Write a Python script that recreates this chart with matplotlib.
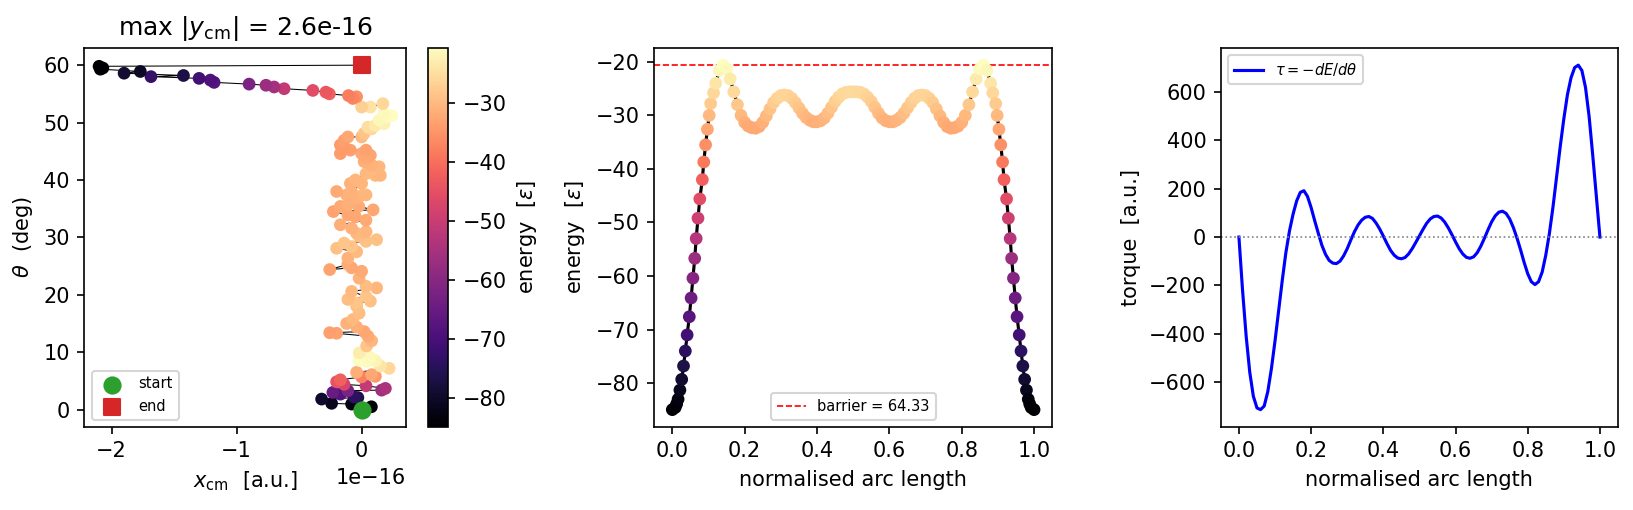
import numpy as np
import matplotlib
matplotlib.use("Agg")
import matplotlib.pyplot as plt

# ---------------- panel 1: path in (x_cm, theta), coloured by energy ----------------
# x_cm in units of 1e-16 a.u.
xcm_e16 = [0.00, 0.078, -0.08, -0.24, -0.32, -0.03, -0.06, -0.17, -0.23, -0.11,
           0.16, 0.19, 0.035, -0.14, -0.20, -0.17, 0.00, 0.11, 0.08, -0.04,
           0.22, 0.15, 0.11, 0.04, -0.02, 0.07, -0.02,
           0.04, 0.08, 0.05, -0.20, -0.255, 0.02, -0.04, -0.12, -0.07, -0.02, -0.04,
           -0.04, 0.07, -0.11, 0.035, -0.08, 0.12, 0.035, -0.02, 0.00, -0.08,
           -0.255, -0.11, -0.11, -0.04, -0.20, -0.08, -0.14, 0.035, 0.12, -0.02,
           -0.04, 0.035, -0.08, -0.17, 0.035, -0.05, -0.11, -0.226, 0.092, -0.023,
           -0.17, -0.11,
           -0.04, 0.01, 0.035, -0.12, -0.20, -0.08, 0.00, -0.09, -0.05, 0.035,
           0.11, 0.15, 0.07, 0.14, 0.08, 0.02, 0.05, 0.07, 0.00, 0.035,
           -0.09, -0.17, -0.14, -0.17, -0.14, -0.11, 0.00, 0.02, 0.08, 0.05,
           0.11, 0.18, 0.14, 0.21, 0.24, 0.18, 0.17, 0.07, 0.00,
           -0.04, -0.07, -0.105, -0.258, -0.286, -0.39, -0.62, -0.70, -0.765, -0.90,
           -1.18, -1.21, -1.30, -1.685, -1.425, -1.90, -1.77, -2.09, -2.07, -2.10,
           0.00]
theta_deg = [0.0, 0.5, 0.97, 1.1, 1.84, 2.1, 2.2, 2.7, 3.0, 3.3,
             3.4, 3.7, 4.15, 4.4, 4.85, 5.2, 5.7, 5.8, 6.1, 6.5,
             7.2, 7.6, 8.5, 8.4, 8.6, 9.1, 9.9,
             11.1, 12.0, 12.8, 13.3, 13.4, 13.6, 14.4, 15.0, 15.7, 16.8, 18.0,
             18.6, 18.9, 19.2, 19.7, 20.6, 21.2, 21.5, 22.9, 24.1, 24.7,
             24.4, 25.3, 26.4, 27.5, 28.1, 28.4, 29.0, 29.3, 29.6, 30.2,
             30.7, 31.0, 31.6, 32.2, 33.0, 33.6, 33.9, 34.5, 34.8, 35.4,
             35.4, 35.7,
             36.8, 37.4, 37.4, 37.4, 38.0, 38.0, 39.4, 39.4, 40.0, 41.1,
             40.8, 40.8, 41.7, 42.3, 42.6, 43.2, 43.8, 44.3, 44.6, 45.2,
             45.2, 44.6, 45.5, 46.1, 46.9, 47.5, 47.5, 48.1, 48.9, 49.2,
             49.5, 49.8, 50.4, 51.0, 51.2, 51.5, 53.3, 52.7, 52.7,
             54.5, 54.2, 54.7, 55.0, 55.3, 55.6, 55.9, 56.2, 56.5, 56.7,
             57.0, 57.4, 57.7, 58.0, 58.2, 58.6, 58.9, 59.3, 59.5, 59.8,
             60.0]
energy_path = [-84.9, -84.3, -83.2, -81.6, -79.5, -76.5, -74.0, -68.5, -65.0, -62.0,
               -56.5, -54.5, -51.0, -47.5, -44.5, -42.0, -37.5, -34.5, -32.5, -31.5,
               -26.0, -24.0, -22.0, -21.0, -20.7, -21.3, -23.0,
               -28.5, -30.5, -32.0, -33.0, -33.5, -32.5, -31.5, -31.0, -30.0, -29.5, -29.0,
               -28.5, -29.0, -29.5, -28.5, -30.0, -30.5, -29.5, -31.0, -32.0, -32.5,
               -33.0, -32.0, -31.0, -30.0, -29.0, -28.5, -28.5, -29.0, -29.0, -29.5,
               -30.0, -30.5, -31.0, -31.5, -32.0, -32.5, -32.5, -33.0, -32.5, -32.0,
               -32.0, -31.5,
               -31.0, -30.5, -30.5, -31.0, -32.0, -31.0, -30.5, -31.0, -30.5, -30.0,
               -30.0, -30.5, -30.0, -30.5, -31.0, -31.5, -32.0, -32.5, -32.5, -33.0,
               -33.5, -34.0, -34.0, -34.0, -33.5, -32.5, -30.0, -28.5, -26.0, -25.0,
               -23.5, -22.5, -21.5, -21.0, -20.7, -21.2, -26.0, -24.5, -27.0,
               -35.5, -37.0, -38.0, -42.0, -43.5, -46.0, -51.0, -55.5, -57.0, -62.0,
               -68.0, -69.0, -71.0, -73.0, -77.0, -79.0, -80.5, -84.0, -84.5, -84.9,
               -84.9]
y_cm_max = 2.6e-16

# ---------------- panel 2: energy along the path ----------------
s_nodes = [0.000, 0.008, 0.012, 0.016, 0.021, 0.026, 0.031, 0.036, 0.041, 0.047,
           0.052, 0.057, 0.062, 0.066, 0.071, 0.076, 0.083, 0.087, 0.092, 0.097,
           0.102, 0.106, 0.114,
           0.12, 0.13, 0.14, 0.15, 0.16, 0.17, 0.18, 0.19, 0.20, 0.21,
           0.22, 0.23, 0.24, 0.25, 0.26, 0.27, 0.28, 0.29, 0.30, 0.31,
           0.32, 0.33, 0.34, 0.35, 0.36, 0.37, 0.38, 0.39, 0.40, 0.41,
           0.42, 0.43, 0.44, 0.45, 0.46, 0.47, 0.48, 0.49, 0.50, 0.51,
           0.52, 0.53, 0.54, 0.55, 0.56, 0.57, 0.58, 0.59, 0.60, 0.61,
           0.62, 0.63, 0.64, 0.65, 0.66, 0.67, 0.68, 0.69, 0.70, 0.71,
           0.72, 0.73, 0.74, 0.75, 0.76, 0.77, 0.78, 0.79, 0.80, 0.81,
           0.82, 0.83, 0.84, 0.85, 0.86, 0.87, 0.88,
           0.886, 0.894, 0.898, 0.903, 0.908, 0.913, 0.917, 0.924, 0.929, 0.934,
           0.938, 0.943, 0.948, 0.953, 0.959, 0.964, 0.969, 0.974, 0.979, 0.984,
           0.988, 0.992, 1.000]
E_nodes = [-84.95, -84.55, -83.9, -83.0, -81.3, -79.3, -76.8, -74.0, -71.0, -67.6,
           -64.1, -60.4, -56.7, -53.0, -49.2, -45.6, -42.0, -38.7, -35.5, -32.6,
           -30.0, -27.8, -25.8,
           -24.0, -21.6, -20.62, -21.3, -23.2, -25.6, -28.0, -30.0, -31.3, -32.0,
           -32.3, -32.4, -32.1, -31.3, -30.1, -28.8, -27.6, -26.8, -26.3, -26.2,
           -26.3, -26.8, -27.6, -28.6, -29.6, -30.4, -30.9, -31.2, -31.2, -31.0,
           -30.5, -29.6, -28.5, -27.4, -26.6, -26.0, -25.7, -25.6, -25.6, -25.6,
           -25.7, -26.0, -26.6, -27.4, -28.5, -29.6, -30.5, -31.0, -31.2, -31.2,
           -30.9, -30.4, -29.6, -28.6, -27.6, -26.8, -26.3, -26.2, -26.3, -26.8,
           -27.6, -28.8, -30.1, -31.3, -32.1, -32.4, -32.3, -32.0, -31.3, -30.0,
           -28.0, -25.6, -23.2, -21.3, -20.62, -21.6, -24.0,
           -25.8, -27.8, -30.0, -32.6, -35.5, -38.7, -42.0, -45.6, -49.2, -53.0,
           -56.7, -60.4, -64.1, -67.6, -71.0, -74.0, -76.8, -79.3, -81.3, -83.0,
           -83.9, -84.55, -84.95]

# ---------------- panel 3: torque ----------------
s_tau = [0.00, 0.01, 0.02, 0.03, 0.04, 0.05, 0.06, 0.07, 0.08, 0.09,
         0.10, 0.11, 0.12, 0.13, 0.14, 0.15, 0.16, 0.17, 0.18, 0.19,
         0.20, 0.21, 0.22, 0.23, 0.24, 0.25, 0.26, 0.27, 0.28, 0.29,
         0.30, 0.31, 0.32, 0.33, 0.34, 0.35, 0.36, 0.37, 0.38, 0.39,
         0.40, 0.41, 0.42, 0.43, 0.44, 0.45, 0.46, 0.47, 0.48, 0.49,
         0.50, 0.51, 0.52, 0.53, 0.54, 0.55, 0.56, 0.57, 0.58, 0.59,
         0.60, 0.61, 0.62, 0.63, 0.64, 0.65, 0.66, 0.67, 0.68, 0.69,
         0.70, 0.71, 0.72, 0.73, 0.74, 0.75, 0.76, 0.77, 0.78, 0.79,
         0.80, 0.81, 0.82, 0.83, 0.84, 0.85, 0.86, 0.87, 0.88, 0.89,
         0.90, 0.91, 0.92, 0.93, 0.94, 0.95, 0.96, 0.97, 0.98, 0.99,
         1.00]
torque = [0, -220, -410, -560, -660, -708, -715, -700, -640, -545,
          -430, -305, -180, -65, 25, 95, 150, 185, 192, 168,
          122, 67, 15, -35, -72, -97, -108, -110, -100, -78,
          -48, -12, 22, 50, 70, 82, 85, 77, 58, 33,
          4, -27, -55, -75, -87, -90, -85, -70, -48, -22,
          5, 32, 57, 75, 85, 87, 79, 62, 38, 10,
          -20, -48, -70, -84, -88, -82, -65, -38, -5, 30,
          63, 88, 103, 107, 98, 75, 40, -3, -52, -105,
          -152, -185, -197, -185, -145, -75, 15, 125, 250, 375,
          490, 590, 660, 702, 712, 690, 620, 500, 340, 170,
          0]

E_min = min(E_nodes)
E_max = max(E_nodes)
barrier = E_max - E_min

fig, axes = plt.subplots(1, 3, figsize=(10.89, 3.4), dpi=150)

# panel 1
ax = axes[0]
x = np.array(xcm_e16) * 1e-16
ax.plot(x, theta_deg, 'k-', lw=0.5, zorder=2)
sc = ax.scatter(x, theta_deg, c=energy_path, cmap='magma', vmin=E_min, vmax=E_max,
                s=26, zorder=3)
ax.scatter(x[0], theta_deg[0], color='tab:green', s=60, zorder=4, label='start')
ax.scatter(x[-1], theta_deg[-1], color='tab:red', marker='s', s=60, zorder=4, label='end')
ax.set_xlabel(r'$x_{\rm cm}$  [a.u.]')
ax.set_ylabel(r'$\theta$  (deg)')
ax.set_title(r'max $|y_{\rm cm}|$ = ' + f'{y_cm_max:.1e}')
ax.legend(fontsize=7, loc='lower left')
cax = fig.add_axes([0.262, 0.163, 0.0125, 0.743])
cb = fig.colorbar(sc, cax=cax)
cb.set_label(r'energy  [$\varepsilon$]')

# panel 2
ax = axes[1]
ax.plot(s_nodes, E_nodes, 'k-', lw=1.5, zorder=2)
ax.scatter(s_nodes, E_nodes, c=E_nodes, cmap='magma', vmin=E_min, vmax=E_max,
           s=26, zorder=3)
ax.axhline(E_max, color='r', ls='--', lw=0.8, label=f'barrier = {barrier:.2f}')
ax.set_xlabel('normalised arc length')
ax.set_ylabel(r'energy  [$\varepsilon$]')
ax.legend(fontsize=7, loc='lower center')

# panel 3
ax = axes[2]
ax.plot(s_tau, torque, 'b-', lw=1.5, label=r'$\tau = -dE/d\theta$')
ax.axhline(0, color='grey', lw=0.8, ls=':')
ax.set_xlabel('normalised arc length')
ax.set_ylabel('torque  [a.u.]')
ax.legend(fontsize=7, loc='upper left')

# axes placement
axes[0].set_position([0.0517, 0.163, 0.197, 0.743])
axes[1].set_position([0.4005, 0.163, 0.2436, 0.743])
axes[2].set_position([0.7474, 0.163, 0.2431, 0.743])

plt.savefig('out.png', dpi=150)
